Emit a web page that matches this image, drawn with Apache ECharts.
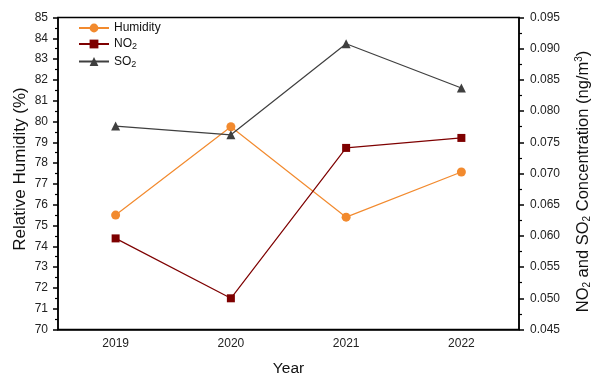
<!DOCTYPE html>
<html>
<head>
<meta charset="utf-8">
<script src="https://cdn.jsdelivr.net/npm/echarts@6/dist/echarts.min.js"></script>
<style>
  html, body { margin: 0; padding: 0; background: #fff; }
  #chart { width: 591px; height: 376px; }
</style>
</head>
<body>
<div id="chart"></div>
<script>
// Yearly humidity and pollutant concentrations
const years = ['2019', '2020', '2021', '2022'];
const humidity = [75.5, 79.75, 75.4, 77.57];        // %
const no2 = [0.0596, 0.0500, 0.0741, 0.0757];       // ng/m3
const so2 = [0.0776, 0.0762, 0.0908, 0.0837];       // ng/m3

const FONT = 'Liberation Sans, Arial, sans-serif';
const subRich = {
  sub: { fontSize: 9, verticalAlign: 'bottom', padding: [6, 0, 0, 0], fontFamily: FONT, color: '#111' }
};
const legendNames = { 'Humidity': 'Humidity', 'NO2': 'NO{sub|2}', 'SO2': 'SO{sub|2}' };

const chart = echarts.init(document.getElementById('chart'), null, { renderer: 'canvas' });

const axisLineStyle = { color: '#000', width: 1.5 };

chart.setOption({
  animation: false,
  textStyle: { fontFamily: FONT },
  grid: {
    left: 58, right: 72, top: 17.5, bottom: 46.5,
    outerBoundsMode: 'none', containLabel: false,
    show: true, borderColor: '#000', borderWidth: 1.5, backgroundColor: 'transparent'
  },
  legend: {
    orient: 'vertical', left: 73, top: 17, itemWidth: 30, itemHeight: 11, itemGap: 4,
    data: ['Humidity', 'NO2', 'SO2'],
    formatter: n => legendNames[n],
    textStyle: { fontSize: 12, color: '#111', fontFamily: FONT, rich: subRich }
  },
  xAxis: [
    {
      type: 'category', data: years, boundaryGap: true,
      name: 'Year', nameLocation: 'middle', nameGap: 31, nameMoveOverlap: false,
      nameTextStyle: { fontSize: 15.5, color: '#111', fontFamily: FONT },
      axisLine: { lineStyle: axisLineStyle },
      axisTick: { alignWithLabel: true, length: 5, lineStyle: axisLineStyle },
      axisLabel: { fontSize: 12, color: '#222', margin: 8, fontFamily: FONT },
      splitLine: { show: false }
    },
    {
      // short ticks on the category boundaries
      type: 'category', data: years, boundaryGap: true, position: 'bottom',
      axisLine: { show: false },
      axisTick: { length: 3, lineStyle: axisLineStyle },
      axisLabel: { show: false },
      splitLine: { show: false }
    }
  ],
  yAxis: [
    {
      type: 'value', min: 70, max: 85, interval: 1, position: 'left',
      name: 'Relative Humidity (%)', nameLocation: 'middle', nameGap: 29, nameRotate: 90,
      nameMoveOverlap: false,
      nameTextStyle: { fontSize: 17, color: '#111', fontFamily: FONT, padding: [0, 0, 0, 9] },
      axisLine: { show: true, lineStyle: axisLineStyle },
      axisTick: { show: true, length: 5, lineStyle: axisLineStyle },
      minorTick: { show: true, splitNumber: 2, length: 3, lineStyle: { color: '#000', width: 1.2 } },
      axisLabel: { fontSize: 12, color: '#222', margin: 10, fontFamily: FONT },
      splitLine: { show: false }
    },
    {
      type: 'value', min: 0.045, max: 0.095, interval: 0.005, position: 'right',
      name: 'NO{sub|2} and SO{sub|2} Concentration (ng/m{sup|3})',
      nameLocation: 'middle', nameGap: 55, nameRotate: 90, nameMoveOverlap: false,
      nameTextStyle: { fontSize: 16.5, color: '#111', fontFamily: FONT, padding: [0, 16, 0, 0], rich: {
        sub: { fontSize: 10, verticalAlign: 'bottom', padding: [8, 0, 0, 0], fontFamily: FONT, color: '#111' },
        sup: { fontSize: 10, verticalAlign: 'top', padding: [0, 0, 8, 0], fontFamily: FONT, color: '#111' }
      } },
      axisLine: { show: true, lineStyle: axisLineStyle },
      axisTick: { show: true, length: 5, lineStyle: axisLineStyle },
      minorTick: { show: true, splitNumber: 2, length: 3, lineStyle: { color: '#000', width: 1.2 } },
      axisLabel: { fontSize: 12, color: '#222', margin: 11, fontFamily: FONT, formatter: v => v.toFixed(3) },
      splitLine: { show: false }
    }
  ],
  series: [
    {
      name: 'Humidity', type: 'line', yAxisIndex: 0, data: humidity,
      symbol: 'circle', symbolSize: 9,
      lineStyle: { color: '#F28A2E', width: 1.2 },
      itemStyle: { color: '#F28A2E' }
    },
    {
      name: 'NO2', type: 'line', yAxisIndex: 1, data: no2,
      symbol: 'rect', symbolSize: 8,
      lineStyle: { color: '#7E0000', width: 1.2 },
      itemStyle: { color: '#7E0000' }
    },
    {
      name: 'SO2', type: 'line', yAxisIndex: 1, data: so2,
      symbol: 'triangle', symbolSize: 9,
      lineStyle: { color: '#3F3F3F', width: 1.2 },
      itemStyle: { color: '#3F3F3F' }
    }
  ]
});
</script>
</body>
</html>
